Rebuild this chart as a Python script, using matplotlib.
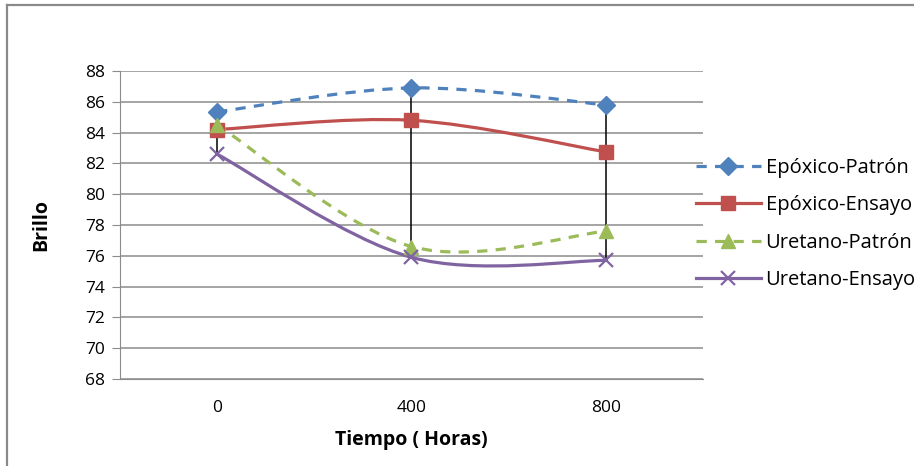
import matplotlib
matplotlib.use("Agg")
import matplotlib.pyplot as plt
from matplotlib.lines import Line2D
from matplotlib.path import Path
from matplotlib.patches import PathPatch
import numpy as np

plt.rcParams['font.family'] = ['Open Sans', 'DejaVu Sans']

horas = ['0', '400', '800']
epoxico_patron = [85.35, 86.9, 85.8]
epoxico_ensayo = [84.2, 84.8, 82.75]
uretano_patron = [84.5, 76.6, 77.6]
uretano_ensayo = [82.6, 75.9, 75.7]
nombres = ['Epóxico-Patrón', 'Epóxico-Ensayo', 'Uretano-Patrón', 'Uretano-Ensayo']

series = [epoxico_patron, epoxico_ensayo, uretano_patron, uretano_ensayo]
colores = ['#4F81BD', '#C0504D', '#9BBB59', '#8064A2']
marcadores = ['D', 's', '^', 'x']
tamanos = [9, 10, 10, 10]
estilos = [(0, (3.2, 2.6)), '-', (0, (3.2, 2.6)), '-']


def curva_suave(xs, ys):
    # catmull-rom segments as cubic bezier, like the office "smoothed line"
    pts = np.column_stack([xs, ys]).astype(float)
    ext = np.vstack([pts[0], pts, pts[-1]])
    verts = [tuple(pts[0])]
    codes = [Path.MOVETO]
    for i in range(len(pts) - 1):
        p0, p1, p2, p3 = ext[i], ext[i + 1], ext[i + 2], ext[i + 3]
        c1 = p1 + (p2 - p0) / 6.0
        c2 = p2 - (p3 - p1) / 6.0
        verts += [tuple(c1), tuple(c2), tuple(p2)]
        codes += [Path.CURVE4] * 3
    return Path(verts, codes)


fig = plt.figure(figsize=(9.14, 4.66), dpi=100)
W, H = 914, 466
ax = fig.add_axes([120 / W, 1 - 379 / H, 583 / W, 308 / H])

x = np.arange(len(horas))

# high-low drop lines at each time
altos = np.max(series, axis=0)
bajos = np.min(series, axis=0)
ax.vlines(x, bajos, altos, color='black', lw=1.1, zorder=2)

handles = []
for ys, c, m, ms, ls, nom in zip(series, colores, marcadores, tamanos, estilos, nombres):
    ax.add_patch(PathPatch(curva_suave(x, ys), fill=False, edgecolor=c,
                           lw=2.3, linestyle=ls, capstyle='butt', zorder=3))
    mew = 1.6 if m == 'x' else 1
    ax.plot(x, ys, linestyle='none', marker=m, markersize=ms, color=c,
            markeredgewidth=mew, zorder=4)
    handles.append(Line2D([], [], color=c, lw=2.3, linestyle=ls, marker=m,
                          markersize=ms, markeredgewidth=mew))

ax.set_xlim(-0.5, 2.5)
ax.set_ylim(68, 88)
ax.set_yticks(np.arange(68, 89, 2))
ax.set_xticks(x)
ax.set_xticklabels(horas)
ax.grid(axis='y', color='#8c8c8c', lw=1.1)
ax.set_axisbelow(True)
for lado in ['top', 'right']:
    ax.spines[lado].set_visible(False)
ax.spines['left'].set_color('#8c8c8c')
ax.spines['bottom'].set_color('#8c8c8c')
ax.tick_params(axis='y', length=6, color='#8c8c8c', labelsize=12.5, pad=5)
ax.tick_params(axis='x', length=0, labelsize=12.5, pad=15)

ax.set_xlabel('Tiempo ( Horas)', fontsize=14, fontweight='bold', labelpad=10)
ax.set_ylabel('Brillo', fontsize=14, fontweight='bold', labelpad=24)

fig.legend(handles, nombres, loc='upper left', bbox_to_anchor=(688 / W, 1 - 150 / H),
           frameon=False, fontsize=14.5, handlelength=3.2, handletextpad=0.25,
           labelspacing=0.86, borderaxespad=0)

# outer chart frame, only top and left edges fall inside the image
fig.add_artist(Line2D([7 / W, 7 / W], [0, 1 - 5 / H], transform=fig.transFigure,
                      color='#8a8a8a', lw=1.6))
fig.add_artist(Line2D([7 / W, 1], [1 - 5 / H, 1 - 5 / H], transform=fig.transFigure,
                      color='#8a8a8a', lw=1.6))

fig.savefig('out.png', dpi=100)
